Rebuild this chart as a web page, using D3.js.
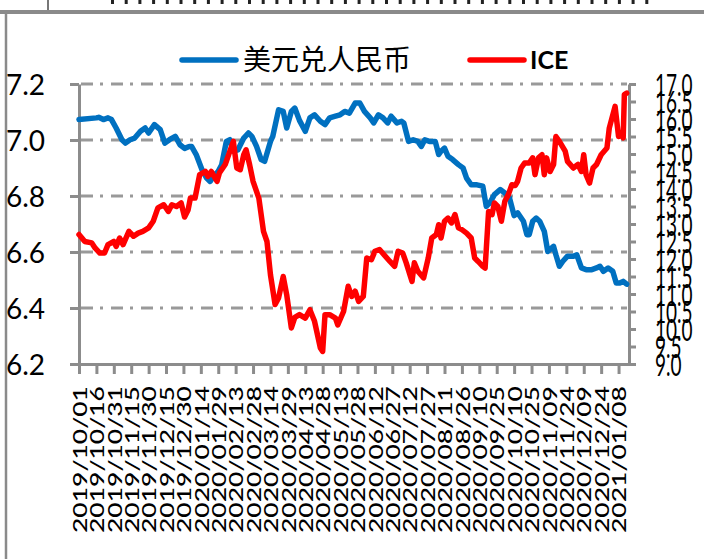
<!DOCTYPE html>
<meta charset="utf-8">
<script src="https://d3js.org/d3.v7.min.js"></script>
<style>
body { margin: 0; background: #fff; }
svg { display: block; }
.axis path, .axis line { stroke: #8c8c8c; stroke-width: 3px; }
.axis text { fill: #000; font-family: Lato, "Liberation Sans", sans-serif; }
.grid line { stroke: #999; stroke-width: 3px; stroke-dasharray: 12 7 3 8; }
</style>
<body></body>
<script>

// days after 2019-10-01 and USD/CNY rate (left axis)
var usdDay = [0,15,17,21,25,28,32,37,40,44,48,53,57,60,65,70,74,78,83,87,91,95,97,101,106,110,113,117,120,123,127,130,133,137,142,146,149,153,157,160,165,167,172,176,179,183,186,190,195,199,203,208,212,216,221,225,229,233,238,242,246,251,254,258,262,266,269,274,278,280,284,288,292,295,298,302,307,310,312,315,318,322,327,331,334,338,343,348,351,354,358,363,367,371,375,378,383,386,388,391,394,397,401,404,409,411,414,417,421,426,429,433,437,442,446,449,452,456,460,463,466,469,472];
var usdRate = [7.073,7.079,7.081,7.073,7.079,7.073,7.043,7.001,6.989,7.001,7.007,7.031,7.043,7.025,7.055,7.037,6.989,7.001,7.013,6.983,6.970,6.977,6.977,6.948,6.894,6.864,6.852,6.876,6.888,6.912,6.995,7.001,6.960,6.965,7.007,7.025,7.013,6.977,6.930,6.924,6.995,7.013,7.108,7.102,7.043,7.102,7.114,7.070,7.031,7.079,7.090,7.067,7.055,7.079,7.085,7.090,7.102,7.096,7.132,7.132,7.102,7.079,7.061,7.090,7.079,7.061,7.085,7.061,7.067,7.060,6.995,7.001,6.995,6.977,7.001,6.995,6.995,6.948,6.960,6.971,6.942,6.930,6.912,6.900,6.864,6.840,6.840,6.835,6.763,6.775,6.805,6.823,6.811,6.793,6.730,6.740,6.710,6.662,6.662,6.710,6.721,6.710,6.674,6.602,6.620,6.590,6.549,6.567,6.585,6.585,6.590,6.543,6.537,6.537,6.543,6.549,6.531,6.543,6.531,6.489,6.489,6.495,6.485];

// days after 2019-10-01 and ICE price (right axis)
var iceDay = [0,5,11,14,18,22,25,30,32,35,38,43,47,51,55,60,64,68,73,77,80,84,88,91,94,96,100,104,109,111,114,119,121,126,129,133,136,139,142,144,147,150,155,159,162,165,169,172,176,179,183,186,190,195,199,203,208,210,212,216,221,223,228,232,235,238,241,245,248,252,255,259,264,268,272,275,279,282,287,289,292,297,301,304,308,310,312,315,318,321,324,327,330,334,338,341,344,348,350,353,356,358,361,364,367,370,373,376,378,381,384,388,391,393,396,399,401,403,406,409,411,414,419,421,426,430,433,435,437,440,443,446,450,455,457,462,465,467,469,470,472];
var icePrice = [12.70,12.50,12.46,12.31,12.17,12.17,12.41,12.50,12.36,12.60,12.41,12.79,12.65,12.74,12.79,12.89,13.08,13.46,13.55,13.36,13.55,13.50,13.60,13.20,13.40,13.74,13.74,14.41,14.50,14.36,14.50,14.22,14.46,14.70,14.98,15.36,14.60,14.55,14.98,15.12,14.70,14.22,13.74,12.79,12.50,11.55,10.70,10.89,11.50,10.98,10.03,10.33,10.41,10.31,10.55,10.22,9.46,9.36,10.41,10.41,10.31,10.12,10.50,11.22,10.93,11.08,10.79,10.93,12.03,11.98,12.22,12.27,12.08,11.93,11.79,12.22,12.17,11.89,11.36,11.89,11.65,11.46,12.03,12.60,12.70,12.98,12.60,13.08,13.17,13.03,13.27,12.89,12.84,12.74,12.60,12.03,11.93,11.79,11.74,13.36,13.27,13.60,13.50,13.08,13.65,13.84,14.12,14.10,14.22,14.60,14.74,14.74,14.89,14.41,14.89,14.98,14.41,14.89,14.50,14.70,15.50,15.36,15.08,14.79,14.60,14.70,14.50,14.98,14.41,14.17,14.60,14.70,14.98,15.17,15.74,16.36,15.50,15.55,15.46,16.70,16.74];

var xLabels = ['2019/10/01','2019/10/16','2019/10/31','2019/11/15','2019/11/30','2019/12/15','2019/12/30',
  '2020/01/14','2020/01/29','2020/02/13','2020/02/28','2020/03/14','2020/03/29','2020/04/13','2020/04/28',
  '2020/05/13','2020/05/28','2020/06/12','2020/06/27','2020/07/12','2020/07/27','2020/08/11','2020/08/26',
  '2020/09/10','2020/09/25','2020/10/10','2020/10/25','2020/11/09','2020/11/24','2020/12/09','2020/12/24','2021/01/08'];
var leftTicks = [6.2, 6.4, 6.6, 6.8, 7.0, 7.2];
var rightTicks = d3.range(9, 17.01, 0.5);
var seriesNames = ['美元兑人民币', 'ICE'];

var parseDate = d3.utcParse('%Y/%m/%d');
var start = Date.UTC(2019, 9, 1);
function dayDate(n) { return new Date(start + n * 864e5); }

var svg = d3.select('body').append('svg').attr('width', 704).attr('height', 559);

// frame bits at top / left
svg.append('g').selectAll('rect')
  .data(d3.range(40)).enter().append('rect')
  .attr('x', function(i) { return 111 + i * 13.7; }).attr('y', 0)
  .attr('width', 3).attr('height', 4).attr('fill', '#222');
svg.append('line').attr('x1', 48).attr('x2', 48).attr('y1', 0).attr('y2', 12)
  .attr('stroke', '#777').attr('stroke-width', 2);
svg.append('line').attr('x1', 0).attr('x2', 704).attr('y1', 12).attr('y2', 12)
  .attr('stroke', '#8a8a8a').attr('stroke-width', 4);
svg.append('line').attr('x1', 6).attr('x2', 6).attr('y1', 12).attr('y2', 559)
  .attr('stroke', '#8a8a8a').attr('stroke-width', 2.5);

var x = d3.scaleUtc().domain([dayDate(0), dayDate(474)]).range([79, 629]);
var yL = d3.scaleLinear().domain([6.2, 7.2]).range([364, 84]);
var yR = d3.scaleLinear().domain([9, 17]).range([364, 84]);

// gridlines
svg.append('g').attr('class', 'grid').selectAll('line')
  .data(leftTicks.slice(1)).enter().append('line')
  .attr('x1', 81).attr('x2', 627)
  .attr('y1', function(d) { return yL(d); }).attr('y2', function(d) { return yL(d); });

// left axis
var leftAxis = svg.append('g').attr('class', 'axis').attr('transform', 'translate(79,0)')
  .call(d3.axisLeft(yL).tickValues(leftTicks).tickSize(9).tickSizeOuter(0).tickPadding(25)
    .tickFormat(d3.format('.1f')));
leftAxis.selectAll('text').attr('font-size', 28).attr('dy', '0.36em');

// right axis
var rightAxis = svg.append('g').attr('class', 'axis').attr('transform', 'translate(629,0)')
  .call(d3.axisRight(yR).tickValues(rightTicks).tickSize(7).tickSizeOuter(0)
    .tickFormat(d3.format('.1f')));
rightAxis.selectAll('text')
  .attr('font-size', 19).attr('x', 26).attr('dy', '0.36em')
  .attr('transform', 'scale(1,1.62)');

// bottom axis
var bottomAxis = svg.append('g').attr('class', 'axis').attr('transform', 'translate(0,364)')
  .call(d3.axisBottom(x).tickValues(xLabels.map(parseDate)).tickSize(10).tickSizeOuter(0)
    .tickFormat(d3.utcFormat('%Y/%m/%d')));
bottomAxis.selectAll('text')
  .attr('font-size', 19).attr('font-weight', 500)
  .attr('transform', 'rotate(-90)')
  .attr('text-anchor', 'end')
  .attr('x', -22).attr('y', 0).attr('dy', '0.38em')
  .attr('textLength', 147).attr('lengthAdjust', 'spacingAndGlyphs');

// series
var usd = usdDay.map(function(d, i) { return { date: dayDate(d), v: usdRate[i] }; });
var ice = iceDay.map(function(d, i) { return { date: dayDate(d), v: icePrice[i] }; });

svg.append('path').datum(usd)
  .attr('fill', 'none').attr('stroke', '#0070C0').attr('stroke-width', 5.5)
  .attr('stroke-linejoin', 'round').attr('stroke-linecap', 'round')
  .attr('d', d3.line().x(function(d) { return x(d.date); }).y(function(d) { return yL(d.v); }));

svg.append('path').datum(ice)
  .attr('fill', 'none').attr('stroke', '#FF0000').attr('stroke-width', 5.5)
  .attr('stroke-linejoin', 'round').attr('stroke-linecap', 'round')
  .attr('d', d3.line().x(function(d) { return x(d.date); }).y(function(d) { return yR(d.v); }));

// legend
var legend = svg.append('g');
legend.append('line').attr('x1', 182).attr('x2', 236).attr('y1', 60).attr('y2', 60)
  .attr('stroke', '#0070C0').attr('stroke-width', 5.5).attr('stroke-linecap', 'round');
legend.append('text').attr('x', 243).attr('y', 70)
  .attr('font-family', '"Noto Sans CJK SC", sans-serif').attr('font-size', 28)
  .text(seriesNames[0]);
legend.append('line').attr('x1', 470).attr('x2', 524).attr('y1', 60).attr('y2', 60)
  .attr('stroke', '#FF0000').attr('stroke-width', 5.5).attr('stroke-linecap', 'round');
legend.append('text').attr('x', 530).attr('y', 69)
  .attr('font-family', 'Lato, sans-serif').attr('font-weight', 'bold').attr('font-size', 25)
  .text(seriesNames[1]);

</script>
